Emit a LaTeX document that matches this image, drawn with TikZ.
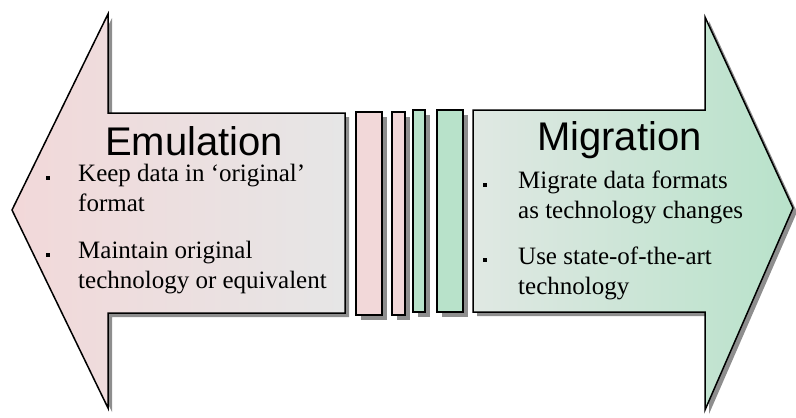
\documentclass[tikz,border=0pt]{standalone}
\usepackage{fontspec}
\setmainfont{Liberation Serif}
\newfontfamily\titlefont{Liberation Sans}
\definecolor{emupink}{HTML}{F2D8D9}
\definecolor{emugray}{HTML}{E6E6E6}
\definecolor{miggray}{HTML}{E0E8E3}
\definecolor{miggreen}{HTML}{B8E2CA}
\definecolor{shadowgray}{HTML}{8E8E8E}

\tikzset{
  outline/.style={draw=black, line width=1.5pt, line join=miter},
  title/.style={font=\titlefont\fontsize{40}{40}\selectfont, anchor=base west, inner sep=0pt},
  item/.style={font=\fontsize{25}{30}\selectfont, anchor=north west, align=left, inner sep=0pt},
  dot/.style={fill=black, minimum size=4pt, inner sep=0pt},
  bar/.style={draw=black, line width=1.8pt}
}

\begin{document}
\begin{tikzpicture}[x=1pt,y=-1pt]
  \useasboundingbox (0,0) rectangle (796,418);

  % left arrow: emulation
  \fill[shadowgray, shift={(4,4)}] (12,210) -- (108,14) -- (108,113) -- (345,113) -- (345,313) -- (108,313) -- (108,408) -- cycle;
  \shade[outline, left color=emupink, right color=emugray] (12,210) -- (108,14) -- (108,113) -- (345,113) -- (345,313) -- (108,313) -- (108,408) -- cycle;

  % right arrow: migration
  \fill[shadowgray, shift={(4,4)}] (473,110) -- (705,110) -- (705,17) -- (793,208) -- (705,410) -- (705,312) -- (473,312) -- cycle;
  \shade[outline, left color=miggray, right color=miggreen] (473,110) -- (705,110) -- (705,17) -- (793,208) -- (705,410) -- (705,312) -- (473,312) -- cycle;

  % bars in between
  \foreach \xa/\xb/\ya/\yb/\c in {356/382/112/315/emupink, 392/405/112/315/emupink, 413/425/110/312/miggreen, 437/463/110/312/miggreen}{
    \fill[shadowgray] (\xa+5,\ya+5) rectangle (\xb+5,\yb+5);
    \filldraw[bar, fill=\c] (\xa,\ya) rectangle (\xb,\yb);
  }

  % texts
  \node[title] (emutitle) at (105,155) {Emulation};
  \node[item] (emu1) at (78,164) {Keep data in ‘original’\\format};
  \node[item] (emu2) at (78,241) {Maintain original\\technology or equivalent};
  \node[dot] (emudot1) at (48,178) {};
  \node[dot] (emudot2) at (48,255) {};

  \node[title] (migtitle) at (537,150) {Migration};
  \node[item] (mig1) at (518,171) {Migrate data formats\\as technology changes};
  \node[item] (mig2) at (518,247) {Use state-of-the-art\\technology};
  \node[dot] (migdot1) at (485,185) {};
  \node[dot] (migdot2) at (485,260) {};
\end{tikzpicture}
\end{document}
